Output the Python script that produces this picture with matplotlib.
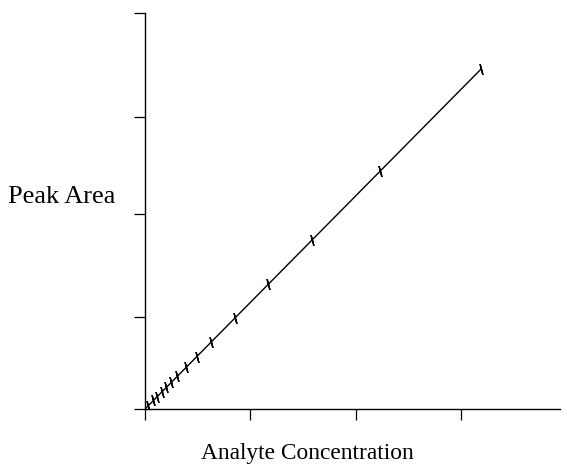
import numpy as np
import matplotlib
matplotlib.use("Agg")
import matplotlib.pyplot as plt

# Calibration standards (arbitrary units)
concentration = [0.03, 0.08, 0.11, 0.16, 0.20, 0.25, 0.30, 0.39, 0.49,
                 0.63, 0.85, 1.17, 1.59, 2.23, 3.19]
peak_area = [0.03, 0.09, 0.12, 0.17, 0.22, 0.27, 0.33, 0.42, 0.53,
             0.68, 0.92, 1.26, 1.71, 2.40, 3.43]

x_ticks = [0, 1, 2, 3]
y_ticks = [0, 0.93, 1.97, 2.95, 4.0]

plt.rcParams["font.family"] = ["Liberation Serif", "DejaVu Serif"]

fig = plt.figure(figsize=(5.67, 4.66), dpi=100)
ax = fig.add_axes([145 / 567, 57 / 466, 415 / 567, 396 / 466])

x = np.asarray(concentration)
y = np.asarray(peak_area)

# least-squares line through the origin
slope = np.sum(x * y) / np.sum(x * x)
xs = np.array([0.0, x.max()])
ax.plot(xs, slope * xs, color="black", lw=1.0, solid_capstyle="butt")
ax.plot(x, y, linestyle="none", marker=(2, 2, 15), markersize=8,
        markeredgecolor="black", markeredgewidth=1.0)

ax.set_xlim(0, 3.94)
ax.set_ylim(0, 4.0)
ax.set_xticks(x_ticks)
ax.set_yticks(y_ticks)
ax.set_xticklabels([])
ax.set_yticklabels([])
ax.tick_params(direction="out", length=8, width=0.9, color="black")
for side in ("top", "right"):
    ax.spines[side].set_visible(False)
for side in ("left", "bottom"):
    ax.spines[side].set_linewidth(1.0)

fig.text(8 / 567, 1 - 197 / 466, "Peak Area", ha="left", va="center",
         fontsize=19)
fig.text(307 / 567, 1 - 453 / 466, "Analyte Concentration", ha="center",
         va="center", fontsize=16.8)

fig.savefig("out.png", dpi=100)
